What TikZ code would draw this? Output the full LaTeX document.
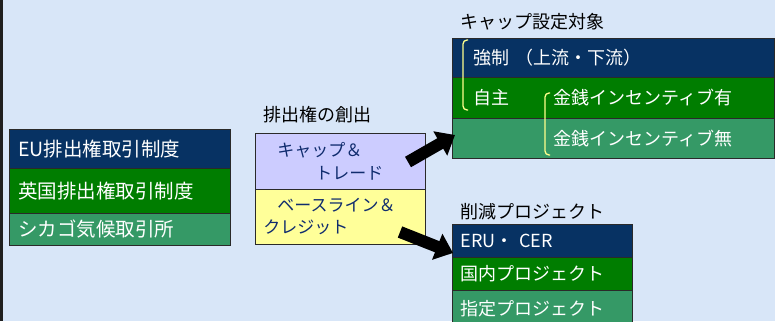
\documentclass[tikz,border=0pt]{standalone}
\usepackage{fontspec}
\setmainfont{Noto Sans CJK JP}
\usetikzlibrary{arrows.meta}
\definecolor{bg}{HTML}{D8E6F8}
\definecolor{navy}{HTML}{073263}
\definecolor{grn}{HTML}{007D00}
\definecolor{teal}{HTML}{359966}
\definecolor{lav}{HTML}{CCCCFF}
\definecolor{ylw}{HTML}{FFFF99}
\definecolor{midtxt}{HTML}{102C6E}
\definecolor{brk}{HTML}{FFFF8C}
\definecolor{edge}{HTML}{2A2A2A}
\tikzset{
  cell/.style={draw=edge, line width=0.8pt, anchor=north west, align=left, inner ysep=0pt, text=white},
  ttl/.style={anchor=west, inner sep=0pt, font=\fontsize{18}{22}\selectfont},
  bigarrow/.style={line width=12pt, -{Triangle[width=27pt,length=17pt]}},
  bracket/.style={draw=brk, line width=1.3pt, rounded corners=4pt}
}
\begin{document}
\begin{tikzpicture}[x=1pt,y=-1pt]
\useasboundingbox (0,0) rectangle (775,321);
\clip (0,0) rectangle (775,321);
\fill[bg] (0,0) rectangle (775,321);
\fill[black!88] (0,0) rectangle (3,321);

% left group
\node[cell, fill=navy, minimum width=221pt, minimum height=39pt, text width=203pt, inner xsep=9pt, font=\fontsize{19.5}{22}\selectfont] (eu) at (9,129) {EU排出権取引制度};
\node[cell, fill=grn, minimum width=221pt, minimum height=45pt, text width=203pt, inner xsep=9pt, font=\fontsize{19.5}{22}\selectfont] (uk) at (9,168) {英国排出権取引制度};
\node[cell, fill=teal, minimum width=221pt, minimum height=32pt, text width=203pt, inner xsep=9pt, font=\fontsize{19.5}{22}\selectfont] (ccx) at (9,213) {シカゴ気候取引所};

% middle group
\node[ttl] (midt) at (263,115) {排出権の創出};
\node[cell, fill=lav, text=midtxt, minimum width=170pt, minimum height=56pt, text width=154pt, inner xsep=8pt, font=\fontsize{17}{23}\selectfont] (ct) at (255,133) {\hspace*{14pt}キャップ＆\\\hspace*{52pt}トレード};
\node[cell, fill=ylw, text=midtxt, minimum width=170pt, minimum height=55pt, text width=154pt, inner xsep=8pt, font=\fontsize{17}{22}\selectfont] (bc) at (255,189) {\hspace*{14pt}ベースライン＆\\クレジット};

% cap targets
\node[ttl] (capt) at (460,22) {キャップ設定対象};
\node[cell, fill=navy, minimum width=322pt, minimum height=39pt, text width=280pt, inner xsep=21pt, font=\fontsize{18}{22}\selectfont] (cap1) at (452,38) {強制 （上流・下流）};
\node[cell, fill=grn, minimum width=322pt, minimum height=41pt, text width=280pt, inner xsep=21pt, font=\fontsize{18}{22}\selectfont] (cap2) at (452,77) {\makebox[80pt][l]{自主}金銭インセンティブ有};
\node[cell, fill=teal, minimum width=322pt, minimum height=40pt, text width=280pt, inner xsep=21pt, font=\fontsize{18}{22}\selectfont] (cap3) at (452,118) {\hspace*{80pt}金銭インセンティブ無};
\draw[bracket] (468,40) -- (463,40) -- (463,110) -- (468,110);
\draw[bracket] (550,93) -- (545,93) -- (545,155) -- (550,155);

% reduction projects
\node[ttl] (redt) at (460,212) {削減プロジェクト};
\node[cell, fill=navy, minimum width=180pt, minimum height=33pt, text width=164pt, inner xsep=8pt, font=\fontsize{18}{22}\selectfont] (red1) at (452,224) {ERU・ CER};
\node[cell, fill=grn, minimum width=180pt, minimum height=33pt, text width=164pt, inner xsep=8pt, font=\fontsize{18}{22}\selectfont] (red2) at (452,257) {国内プロジェクト};
\node[cell, fill=teal, minimum width=180pt, minimum height=36pt, text width=164pt, inner xsep=8pt, font=\fontsize{18}{22}\selectfont] (red3) at (452,290) {指定プロジェクト};

% arrows
\coordinate (a1s) at (408,162);
\coordinate (a1e) at (455,135);
\coordinate (a2s) at (400,232);
\coordinate (a2e) at (453,253);
\draw[bigarrow] (a1s) -- (a1e);
\draw[bigarrow] (a2s) -- (a2e);
\end{tikzpicture}
\end{document}
